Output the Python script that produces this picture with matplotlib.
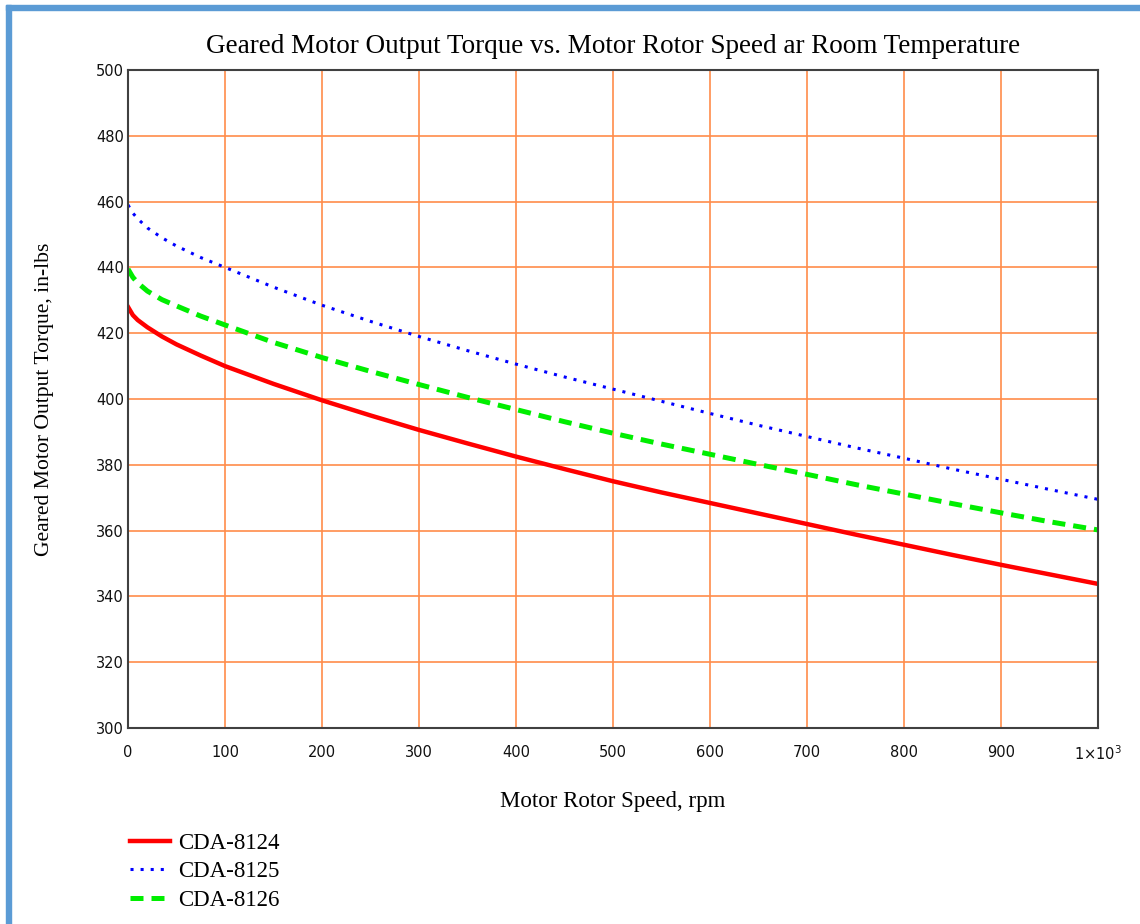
import matplotlib.pyplot as plt
from matplotlib.patches import Rectangle

# values
speed_rpm = [0, 5, 10, 20, 35, 50, 75, 100, 150, 200, 250, 300, 350, 400, 450,
             500, 550, 600, 650, 700, 750, 800, 850, 900, 950, 1000]
torque_8124 = [428.0, 425.5, 424.0, 421.8, 419.0, 416.6, 413.2, 410.0, 404.6, 399.6,
               395.0, 390.6, 386.5, 382.5, 378.7, 375.0, 371.6, 368.4, 365.2, 362.0,
               358.8, 355.7, 352.6, 349.6, 346.7, 343.8]
torque_8125 = [459.0, 456.5, 454.8, 452.0, 449.0, 446.5, 443.0, 440.0, 434.0, 428.5,
               423.6, 419.0, 414.7, 410.6, 406.7, 403.0, 399.3, 395.6, 392.0, 388.6,
               385.2, 382.0, 378.7, 375.6, 372.5, 369.5]
torque_8126 = [439.5, 437.0, 435.3, 432.8, 430.2, 428.3, 425.2, 422.5, 417.2, 412.6,
               408.4, 404.4, 400.5, 396.8, 393.1, 389.6, 386.3, 383.2, 380.1, 377.1,
               374.0, 371.1, 368.2, 365.4, 362.7, 360.2]

x_ticks = list(range(0, 1001, 100))
x_tick_labels = [str(v) for v in range(0, 901, 100)] + [r'1$\times$10$^{3}$']
y_ticks = list(range(300, 501, 20))

grid_col = '#FF8C4A'
serif = ['Liberation Serif', 'DejaVu Serif']

fig = plt.figure(figsize=(11.4, 9.24), dpi=100)
ax = fig.add_axes([128 / 1140, 1 - 728 / 924, 970 / 1140, 658 / 924])

ax.plot(speed_rpm, torque_8124, color='#FF0000', linewidth=3.2, label='CDA-8124')
ax.plot(speed_rpm, torque_8125, color='#0000FF', linewidth=2.2,
        linestyle=(0, (1, 2.3)), label='CDA-8125')
ax.plot(speed_rpm, torque_8126, color='#00EE00', linewidth=3.6,
        linestyle=(0, (2.6, 1.6)), label='CDA-8126')

ax.set_xlim(0, 1000)
ax.set_ylim(300, 500)
ax.set_xticks(x_ticks)
ax.set_xticklabels(x_tick_labels)
ax.set_yticks(y_ticks)
ax.tick_params(length=0, labelsize=10.5, pad=12, colors='#111111')
ax.tick_params(axis='y', pad=3)
ax.grid(True, color=grid_col, linewidth=1.2)
ax.set_axisbelow(True)
for s in ax.spines.values():
    s.set_color('#404040')
    s.set_linewidth(1.5)

ax.set_title('Geared Motor Output Torque vs. Motor Rotor Speed ar Room Temperature',
             family=serif, fontsize=19.5, pad=12)
ax.set_xlabel('Motor Rotor Speed, rpm', family=serif, fontsize=16.5, labelpad=20)
ax.set_ylabel('Geared Motor Output Torque, in-lbs', family=serif, fontsize=15.6, labelpad=30)

fig.legend(loc='upper left', bbox_to_anchor=(114 / 1140, 1 - 817 / 924), frameon=False,
           prop={'family': serif, 'size': 16.5}, handlelength=1.75, labelspacing=0.32,
           handletextpad=0.35, borderaxespad=0.3)

# blue window border on left and top
fig.patches.append(Rectangle((6 / 1140, 0), 5 / 1140, 1 - 5 / 924, transform=fig.transFigure,
                             color='#5B9BD5', zorder=5))
fig.patches.append(Rectangle((6 / 1140, 1 - 10 / 924), 1, 5 / 924, transform=fig.transFigure,
                             color='#5B9BD5', zorder=5))

fig.savefig('out.png', dpi=100)
